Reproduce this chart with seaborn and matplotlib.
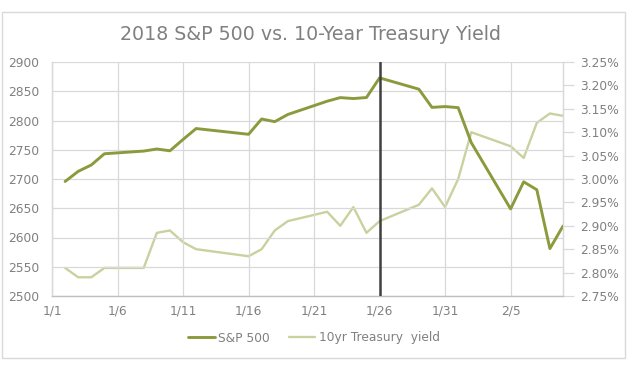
import matplotlib
matplotlib.use("Agg")
import matplotlib.pyplot as plt
from matplotlib.patches import Rectangle
import seaborn as sns
import pandas as pd

# ---- data ----
dates = ["2018-01-02", "2018-01-03", "2018-01-04", "2018-01-05", "2018-01-08",
         "2018-01-09", "2018-01-10", "2018-01-11", "2018-01-12", "2018-01-16",
         "2018-01-17", "2018-01-18", "2018-01-19", "2018-01-22", "2018-01-23",
         "2018-01-24", "2018-01-25", "2018-01-26", "2018-01-29", "2018-01-30",
         "2018-01-31", "2018-02-01", "2018-02-02", "2018-02-05", "2018-02-06",
         "2018-02-07", "2018-02-08", "2018-02-09"]
sp500 = [2695.81, 2713.06, 2723.99, 2743.15, 2747.71,
         2751.29, 2748.23, 2767.56, 2786.24, 2776.42,
         2802.56, 2798.03, 2810.30, 2832.97, 2839.13,
         2837.54, 2839.25, 2872.87, 2853.53, 2822.43,
         2823.81, 2821.98, 2762.13, 2648.94, 2695.14,
         2681.66, 2581.00, 2619.55]
yield10 = [2.81, 2.79, 2.79, 2.81, 2.81,
           2.885, 2.89, 2.865, 2.85, 2.835,
           2.85, 2.89, 2.91, 2.93, 2.90,
           2.94, 2.885, 2.91, 2.945, 2.98,
           2.94, 3.00, 3.10, 3.07, 3.045,
           3.12, 3.14, 3.135]
xtick_dates = ["2018-01-01", "2018-01-06", "2018-01-11", "2018-01-16",
               "2018-01-21", "2018-01-26", "2018-01-31", "2018-02-05"]
xtick_labels = ["1/1", "1/6", "1/11", "1/16", "1/21", "1/26", "1/31", "2/5"]
left_ticks = [2500, 2550, 2600, 2650, 2700, 2750, 2800, 2850, 2900]
right_ticks = [2.75, 2.80, 2.85, 2.90, 2.95, 3.00, 3.05, 3.10, 3.15, 3.20, 3.25]
event_date = "2018-01-26"
title = "2018 S&P 500 vs. 10-Year Treasury Yield"
series_names = ["S&P 500", "10yr Treasury  yield"]

df = pd.DataFrame({"date": pd.to_datetime(dates), "sp": sp500, "y": yield10})

# ---- style ----
sns.set_theme(style="white")
plt.rcParams["font.family"] = ["DejaVu Sans"]
TXT = "#808080"
GRID = "#d9d9d9"
C_SP = "#8c9a3e"
C_Y = "#c8d29e"
FS = 8.8

W, H = 632, 372
fig = plt.figure(figsize=(W / 100, H / 100), dpi=100)
ax = fig.add_axes([52 / W, 1 - 296 / H, (563 - 52) / W, (296 - 62) / H])
ax2 = ax.twinx()

ax.set_axisbelow(True)
ax.grid(True, color=GRID, lw=0.9)

sns.lineplot(data=df, x="date", y="y", ax=ax2, color=C_Y, lw=1.7,
             label=series_names[1], legend=False)
sns.lineplot(data=df, x="date", y="sp", ax=ax, color=C_SP, lw=2.1,
             label=series_names[0], legend=False)
ax.set_zorder(ax2.get_zorder() + 1)
ax.patch.set_visible(False)

ax.axvline(pd.Timestamp(event_date), color="#404040", lw=1.8, zorder=5)

ax.set_xlim(pd.Timestamp("2018-01-01"), pd.Timestamp("2018-02-09"))
ax.set_ylim(2500, 2900)
ax2.set_ylim(2.75, 3.25)

ax.set_xticks(pd.to_datetime(xtick_dates))
ax.set_xticklabels(xtick_labels)
ax.set_yticks(left_ticks)
ax.set_yticklabels([str(v) for v in left_ticks])
ax2.set_yticks(right_ticks)
ax2.set_yticklabels([f"{v:.2f}%" for v in right_ticks])

for a in (ax, ax2):
    a.set_xlabel("")
    a.set_ylabel("")

ax.tick_params(axis="x", length=0, pad=6, labelsize=FS, labelcolor=TXT)
ax.tick_params(axis="y", length=0, pad=9, labelsize=FS, labelcolor=TXT)
ax2.tick_params(axis="y", length=8, width=0.9, color=GRID, pad=4,
                labelsize=FS, labelcolor=TXT, direction="out")

for a in (ax, ax2):
    for s in a.spines.values():
        s.set_color(GRID)
        s.set_linewidth(0.9)
ax.spines["top"].set_visible(False)
ax2.spines["top"].set_visible(False)
ax.spines["bottom"].set_color("#bfbfbf")

fig.text(310 / W, 1 - 35 / H, title, ha="center", va="center",
         fontsize=13.7, color="#808080")

h1, l1 = ax.get_legend_handles_labels()
h2, l2 = ax2.get_legend_handles_labels()
fig.legend(h1 + h2, l1 + l2, loc="center", bbox_to_anchor=(314 / W, 1 - 338 / H),
           ncol=2, frameon=False, fontsize=FS, labelcolor=TXT,
           handlelength=2.2, handletextpad=0.3, columnspacing=1.5)

fig.patches.append(Rectangle((2 / W, 1 - 358 / H), 623 / W, 346 / H,
                             transform=fig.transFigure, fill=False,
                             edgecolor=GRID, lw=1.0))

fig.savefig("out.png", dpi=100, facecolor="white")
